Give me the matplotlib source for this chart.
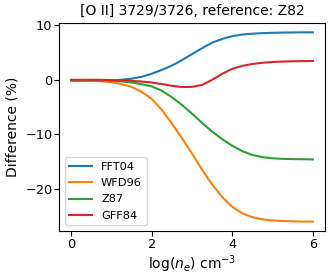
import matplotlib
matplotlib.use('Agg')
import matplotlib.pyplot as plt
import numpy as np

# log(ne) grid
log_ne = np.arange(0, 6.01, 0.25)

fft04 = [-0.15, -0.15, -0.15, -0.15, -0.1, 0.0, 0.2, 0.55, 1.1, 1.8, 2.6, 3.6, 4.7,
         5.8, 6.8, 7.5, 8.0, 8.3, 8.45, 8.55, 8.62, 8.66, 8.68, 8.7, 8.7]
wfd96 = [-0.1, -0.1, -0.15, -0.25, -0.45, -0.8, -1.3, -2.2, -3.5, -5.5, -8.0, -10.7, -13.5,
         -16.5, -19.2, -21.5, -23.3, -24.5, -25.2, -25.6, -25.8, -25.9, -25.95, -26.0, -26.0]
z87 = [-0.1, -0.1, -0.1, -0.15, -0.2, -0.3, -0.5, -0.8, -1.2, -2.0, -3.2, -4.6, -6.2,
       -7.9, -9.5, -10.9, -12.1, -13.1, -13.8, -14.2, -14.4, -14.5, -14.55, -14.57, -14.6]
gff84 = [0.0, 0.0, 0.0, -0.02, -0.05, -0.1, -0.2, -0.32, -0.5, -0.78, -1.1, -1.33, -1.3,
         -0.95, 0.0, 1.1, 2.0, 2.55, 2.9, 3.12, 3.26, 3.34, 3.39, 3.42, 3.45]

series = {'FFT04': fft04, 'WFD96': wfd96, 'Z87': z87, 'GFF84': gff84}

plt.rcParams['xtick.labelsize'] = 9.3
plt.rcParams['ytick.labelsize'] = 9.3
plt.rcParams['xtick.major.pad'] = 1.2
plt.rcParams['ytick.major.pad'] = 1.2

fig, ax = plt.subplots(figsize=(3.33, 2.79), dpi=100)
fig.subplots_adjust(left=0.177, right=0.976, bottom=0.172, top=0.918)

for name, vals in series.items():
    ax.plot(log_ne, vals, label=name)

ax.set_title('[O II] 3729/3726, reference: Z82', fontsize=10)
ax.set_xlabel(r'log($n_e$) cm$^{-3}$', labelpad=2)
ax.set_ylabel('Difference (%)')
ax.set_xticks([0, 2, 4, 6])
ax.set_yticks([-20, -10, 0, 10])
ax.legend(loc='lower left', fontsize=8.2, labelspacing=0.55)

fig.savefig('out.png', dpi=100)
